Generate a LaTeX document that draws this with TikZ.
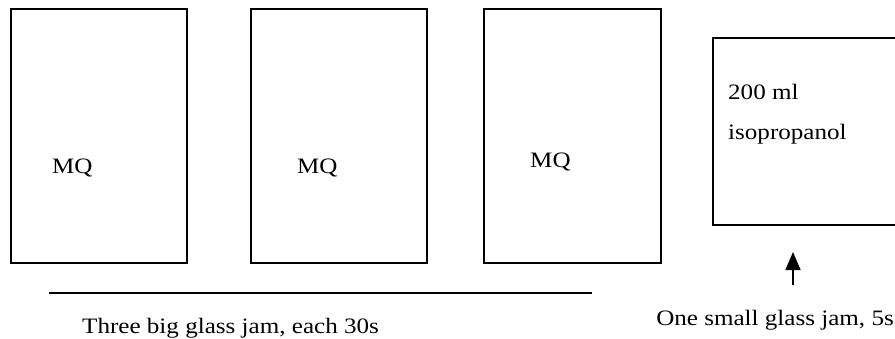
\documentclass[tikz,border=0pt]{standalone}
\usepackage{fontspec}
\setmainfont{Liberation Serif}
\usetikzlibrary{arrows.meta}
\newcommand{\wtxt}[1]{\scalebox{1.14}[1]{#1}}
\tikzset{
  jar/.style={draw, line width=1.6pt, rectangle, inner sep=0pt},
  lbl/.style={inner sep=0pt, anchor=base west, font=\fontsize{22}{26}\selectfont},
  conn/.style={line width=1.6pt}
}
\begin{document}
\begin{tikzpicture}[x=1pt,y=-1pt]
\useasboundingbox (0,0) rectangle (895,338);
\clip (0,0) rectangle (895,338);
% big jars
\node[jar, minimum width=176pt, minimum height=254pt, anchor=north west] (b1) at (10,8) {};
\node[jar, minimum width=176pt, minimum height=254pt, anchor=north west] (b2) at (250,8) {};
\node[jar, minimum width=177pt, minimum height=254pt, anchor=north west] (b3) at (483,8) {};
% small jar (runs past the right edge)
\node[jar, minimum width=220pt, minimum height=187pt, anchor=north west] (b4) at (712,37) {};
% labels
\node[lbl] (m1) at (52,173) {\wtxt{MQ}};
\node[lbl] (m2) at (297,173) {\wtxt{MQ}};
\node[lbl] (m3) at (530,167) {\wtxt{MQ}};
\node[lbl] (t1) at (728,99) {\wtxt{200 ml}};
\node[lbl] (t2) at (728,139) {\wtxt{isopropanol}};
% arrow
\coordinate (atail) at (793,285);
\coordinate (atip) at (793,252);
\draw[conn, -{Triangle[width=15pt,length=18pt]}] (atail) -- (atip);
\node[lbl, anchor=base east] (small) at (894,325) {\wtxt{One small glass jam, 5s}};
% line under big jars
\coordinate (l1) at (49,293);
\coordinate (l2) at (592,293);
\draw[conn] (l1) -- (l2);
\node[lbl] (big) at (82,333) {\wtxt{Three big glass jam, each 30s}};
\end{tikzpicture}
\end{document}
